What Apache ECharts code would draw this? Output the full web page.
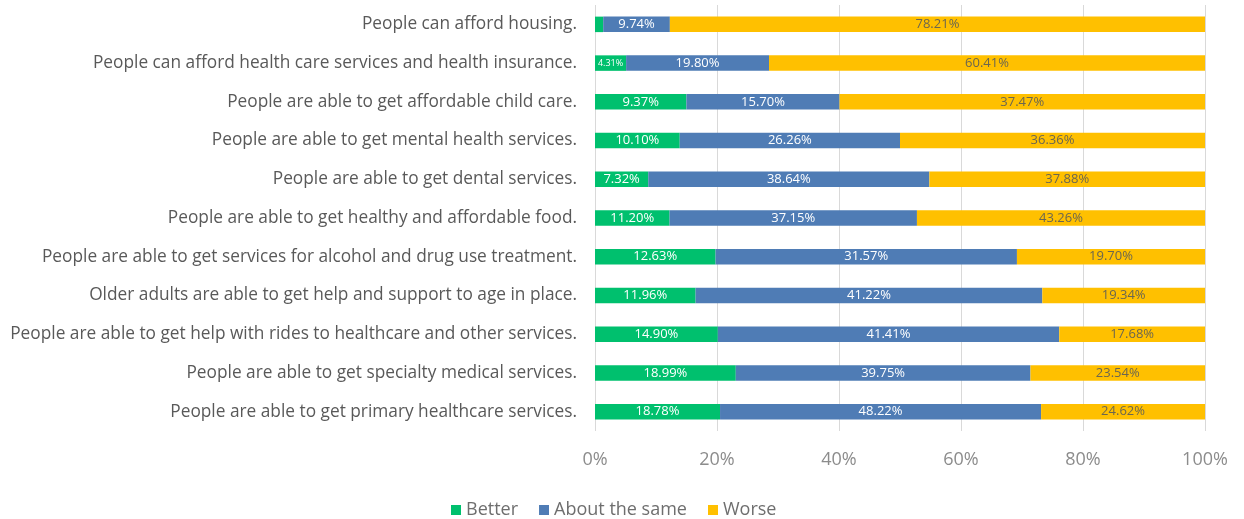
<!DOCTYPE html>
<html>
<head>
<meta charset="utf-8">
<script src="https://cdn.jsdelivr.net/npm/echarts@6/dist/echarts.min.js"></script>
<style>
  html, body { margin: 0; padding: 0; background: #fff; }
  #chart { width: 1244px; height: 519px; }
</style>
</head>
<body>
<div id="chart"></div>
<script>
// Survey statements, listed top to bottom
const categories = [
  'People can afford housing.',
  'People can afford health care services and health insurance.',
  'People are able to get affordable child care.',
  'People are able to get mental health services.',
  'People are able to get dental services.',
  'People are able to get healthy and affordable food.',
  'People are able to get services for alcohol and drug use treatment.',
  'Older adults are able to get help and support to age in place.',
  'People are able to get help with rides to healthcare and other services.',
  'People are able to get specialty medical services.',
  'People are able to get primary healthcare services.'
];

// Response percentages per statement
const better    = [1.2, 4.31, 9.37, 10.10, 7.32, 11.20, 12.63, 11.96, 14.90, 18.99, 18.78];
const aboutSame = [9.74, 19.80, 15.70, 26.26, 38.64, 37.15, 31.57, 41.22, 41.41, 39.75, 48.22];
const worse     = [78.21, 60.41, 37.47, 36.36, 37.88, 43.26, 19.70, 19.34, 17.68, 23.54, 24.62];

const seriesNames = ['Better', 'About the same', 'Worse'];
const xTicks = [0, 20, 40, 60, 80, 100];

const FONT = 'Open Sans';
const totals = categories.map((_, i) => better[i] + aboutSame[i] + worse[i]);

// Each bar is scaled to its row total (100% stacked), labels keep the raw values
function rowShares(values, name) {
  return values.map((v, i) => {
    const item = { value: v / totals[i] * 100, raw: v };
    if (name === 'Better' && v < 2) item.label = { show: false };
    if (name === 'Better' && v >= 2 && v < 5) item.label = { fontSize: 9 };
    return item;
  });
}

const colors = { 'Better': '#00C06E', 'About the same': '#4F7CB5', 'Worse': '#FFC000' };
const labelColors = { 'Better': '#ffffff', 'About the same': '#ffffff', 'Worse': '#6b6650' };
const rawByName = { 'Better': better, 'About the same': aboutSame, 'Worse': worse };

const chart = echarts.init(document.getElementById('chart'), null, { renderer: 'canvas' });

chart.setOption({
  animation: false,
  textStyle: { fontFamily: FONT },
  grid: { left: 595, right: 39, top: 5, height: 426, containLabel: false },
  legend: {
    data: seriesNames,
    top: 496,
    left: 446,
    itemWidth: 10,
    itemHeight: 10,
    itemGap: 21,
    icon: 'rect',
    textStyle: { fontFamily: FONT, fontSize: 18, color: '#6e6e6e' }
  },
  xAxis: {
    type: 'value',
    min: 0,
    max: 100,
    interval: 20,
    axisLine: { show: false },
    axisTick: { show: false },
    splitLine: { show: true, lineStyle: { color: '#d9d9d9', width: 1 } },
    axisLabel: {
      margin: 20,
      fontFamily: FONT,
      fontSize: 18,
      color: '#8c8c8c',
      formatter: v => (xTicks.indexOf(v) >= 0 ? v + '%' : '')
    }
  },
  yAxis: {
    type: 'category',
    data: categories,
    inverse: true,
    axisLine: { show: false },
    axisTick: { show: false },
    axisLabel: {
      margin: 18,
      fontFamily: FONT,
      fontSize: 17.3,
      color: '#595959',
      padding: [3, 0, 0, 0]
    }
  },
  series: seriesNames.map(name => ({
    name: name,
    type: 'bar',
    stack: 'total',
    barWidth: '40%',
    itemStyle: { color: colors[name] },
    label: {
      show: true,
      position: 'inside',
      fontFamily: FONT,
      fontSize: 13,
      color: labelColors[name],
      formatter: p => p.data.raw.toFixed(2) + '%'
    },
    data: rowShares(rawByName[name], name)
  }))
});
</script>
</body>
</html>
